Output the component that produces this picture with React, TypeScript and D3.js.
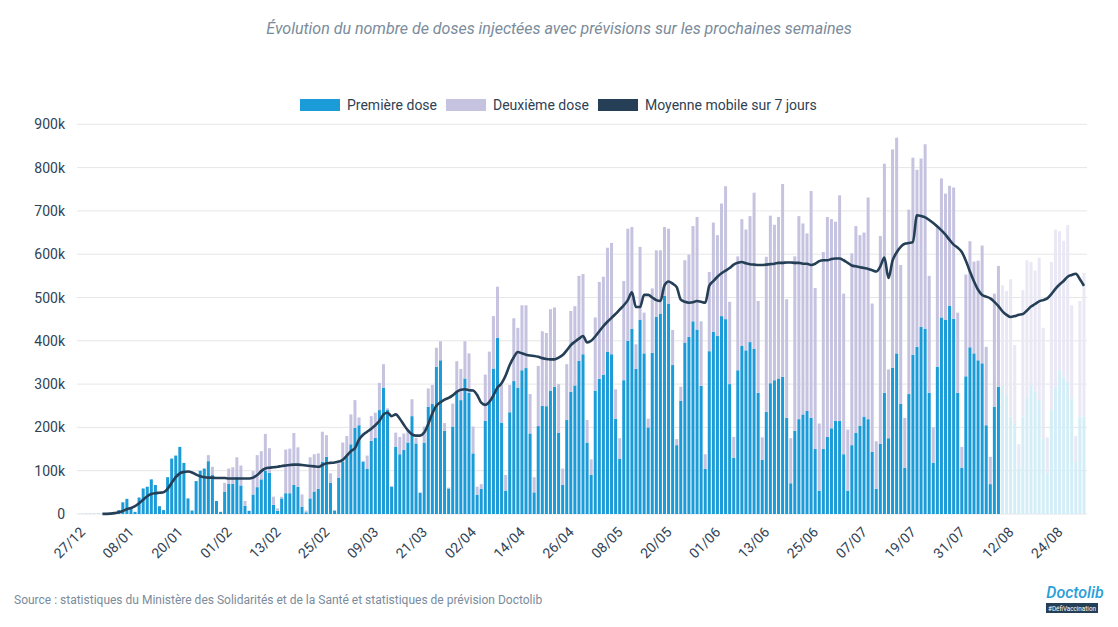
import * as d3 from "d3";

// day 0 = 27/12/2020 (Sunday); one value per day, in thousands of doses
const startDate = new Date(2020, 11, 27);
const forecastStart = 227; // 11/08 onwards are forecasts

const tickLabels = [
  "27/12", "08/01", "20/01", "01/02", "13/02", "25/02", "09/03", "21/03", "02/04", "14/04", "26/04",
  "08/05", "20/05", "01/06", "13/06", "25/06", "07/07", "19/07", "31/07", "12/08", "24/08",
];
const yTicks = [0, 100, 200, 300, 400, 500, 600, 700, 800, 900];

const firstDose = [
  0.1, 0.2, 0.3, 0.3, 0.3, 0.4, 0.4,
  0.3, 1.5, 3.5, 9, 27, 35, 13,
  5, 38, 59, 63, 80, 67, 18,
  9, 85, 128, 135, 155, 118, 36,
  8, 76, 100, 105, 122, 90, 30,
  5, 52, 70, 70, 86, 66, 19,
  7, 45, 62, 80, 100, 95, 21,
  7, 36, 48, 48, 67, 63, 17,
  4, 36, 52, 58, 121, 132, 72,
  8, 84, 121, 135, 161, 199, 205,
  121, 104, 169, 176, 240, 292, 240,
  63, 155, 138, 148, 165, 226, 163,
  49, 165, 248, 254, 340, 355, 192,
  59, 202, 280, 263, 313, 280, 140,
  44, 58, 215, 258, 336, 407, 211,
  54, 235, 307, 292, 332, 337, 186,
  50, 203, 250, 249, 285, 294, 188,
  67, 217, 282, 297, 354, 369, 165,
  90, 285, 312, 321, 375, 369, 220,
  127, 309, 400, 428, 335, 449, 371,
  200, 372, 455, 463, 504, 486, 344,
  159, 261, 396, 409, 445, 426, 296,
  104, 376, 421, 411, 457, 450, 300,
  130, 332, 388, 378, 397, 382, 280,
  125, 236, 302, 309, 313, 317, 222,
  71, 192, 219, 230, 238, 222, 150,
  54, 150, 178, 198, 215, 215, 138,
  54, 159, 188, 204, 225, 219, 144,
  58, 162, 280, 175, 338, 371, 254,
  107, 277, 368, 386, 432, 428, 280,
  118, 340, 454, 448, 481, 451, 280,
  107, 318, 385, 371, 355, 348, 205,
  69, 248, 294, 298, 275, 225, 208,
  108, 225, 271, 298, 282, 263, 175,
  95, 240, 294, 332, 317, 305, 267,
  120, 225, 225,
];

const secondDose = [
  0, 0, 0, 0, 0, 0, 0,
  0, 0, 0, 0, 0, 0, 0,
  0, 0, 0, 0, 0, 0, 0,
  0, 0, 0, 0, 0, 0, 0,
  0, 0, 0, 0, 14, 19, 0,
  0, 20, 35, 38, 45, 46, 11,
  1, 54, 74, 65, 85, 57, 19,
  6, 4, 101, 103, 120, 91, 28,
  4, 95, 86, 82, 69, 50, 22,
  1, 33, 44, 45, 69, 64, 18,
  2, 31, 57, 58, 63, 54, 4,
  2, 33, 40, 38, 30, 39, 13,
  1, 37, 42, 44, 44, 44, 18,
  2, 53, 73, 72, 86, 91, 62,
  19, 11, 107, 117, 121, 118, 87,
  36, 63, 145, 138, 150, 145, 91,
  35, 139, 172, 169, 188, 183, 112,
  38, 129, 187, 183, 196, 185, 52,
  36, 169, 224, 227, 240, 257, 68,
  48, 229, 259, 235, 57, 168, 94,
  20, 149, 154, 146, 159, 173, 81,
  14, 33, 190, 190, 220, 260, 149,
  34, 183, 252, 233, 260, 307, 190,
  48, 263, 293, 279, 291, 360, 212,
  52, 358, 387, 359, 373, 445, 274,
  104, 403, 469, 441, 410, 524, 372,
  155, 455, 508, 483, 460, 521, 371,
  141, 443, 477, 440, 425, 512, 342,
  110, 480, 529, 159, 504, 498, 321,
  115, 426, 455, 409, 389, 426, 270,
  82, 325, 321, 292, 277, 303, 185,
  48, 235, 245, 212, 230, 272, 181,
  63, 261, 279, 230, 240, 317, 182,
  53, 292, 315, 284, 280, 329, 255,
  82, 342, 363, 321, 314, 362, 215,
  60, 267, 332,
];

// 7-day moving average as drawn (starts on day 6)
const movingAvg: (number | null)[] = [
  null, null, null, null, null, null, 0.3,
  0.4, 0.8, 2, 4, 7, 11, 14,
  18, 25, 33, 41, 46, 48, 49,
  50, 58, 72, 85, 94, 97, 98,
  96, 91, 87, 85, 84, 84, 83,
  83, 83, 82, 82, 82, 82, 82,
  82, 84, 90, 99, 105, 107, 108,
  109, 111, 112, 113, 114, 114, 113,
  112, 111, 110, 109, 113, 117, 118,
  119, 121, 125, 135, 145, 152, 172,
  183, 190, 197, 205, 215, 230, 234,
  226, 230, 220, 206, 193, 184, 181,
  181, 188, 208, 232, 250, 258, 264,
  268, 274, 282, 287, 288, 286, 285,
  275, 257, 252, 259, 274, 292, 302,
  320, 344, 362, 374, 371, 368, 366,
  365, 363, 360, 358, 357, 357, 361,
  367, 378, 390, 398, 405, 411, 396,
  400, 410, 422, 434, 444, 453, 462,
  472, 482, 494, 512, 478, 478, 506,
  506, 500, 494, 492, 528, 537, 532,
  524, 495, 490, 488, 489, 492, 490,
  488, 527, 538, 548, 556, 562, 568,
  576, 580, 582, 579, 577, 576, 575,
  575, 576, 577, 578, 580, 580, 581,
  581, 580, 580, 578, 578, 575, 578,
  584, 586, 586, 589, 590, 590, 586,
  580, 574, 572, 570, 568, 566, 563,
  560, 572, 592, 545, 585, 604, 617,
  624, 626, 628, 690, 688, 685, 679,
  672, 664, 655, 645, 633, 622, 615,
  605, 585, 560, 537, 518, 506, 502,
  498, 490, 480, 468, 460, 455, 457,
  460, 462, 470, 479, 485, 491, 494,
  498, 508, 520, 530, 538, 548, 552,
  555, 542, 527,
];

const COLORS = {
  first: "#1b9bd7",
  second: "#c6c3e1",
  firstForecast: "#d4eef8",
  secondForecast: "#e9e8f4",
  line: "#243f56",
  text: "#2f4254",
  muted: "#7a8b9b",
  grid: "#e6e6e6",
};

const FONT = "Roboto, 'Noto Sans', sans-serif";

type Row = { day: number; date: Date; first: number; second: number };

const rows: Row[] = firstDose.map((v, i) => ({
  day: i,
  date: d3.timeDay.offset(startDate, i),
  first: v,
  second: secondDose[i],
}));

export default function App() {
  const width = 1118;
  const height = 627;

  const x = d3.scaleLinear().domain([-0.25, 247.5]).range([77, 1086]);
  const y = d3.scaleLinear().domain([0, 900]).range([514, 124.3]);
  const barW = 3;

  const stacked = d3.stack<Row>().keys(["first", "second"])(rows);

  const line = d3
    .line<number | null>()
    .defined((d) => d != null)
    .x((_, i) => x(i))
    .y((d) => y(d as number))
    .curve(d3.curveMonotoneX);

  const legend = [
    { label: "Première dose", color: COLORS.first, x: 300 },
    { label: "Deuxième dose", color: COLORS.second, x: 446 },
    { label: "Moyenne mobile sur 7 jours", color: COLORS.line, x: 598 },
  ];

  return (
    <div style={{ position: "absolute", left: 0, top: 0 }}>
      <svg width={width} height={height} style={{ display: "block", fontFamily: FONT }}>
        <rect width={width} height={height} fill="#fff" />
        <text
          x={559}
          y={34}
          textAnchor="middle"
          fontSize={16}
          fontStyle="italic"
          fill={COLORS.muted}
        >
          Évolution du nombre de doses injectées avec prévisions sur les prochaines semaines
        </text>

        {/* legend */}
        {legend.map((l) => (
          <g key={l.label}>
            <rect x={l.x} y={99} width={40} height={12} fill={l.color} />
            <text x={l.x + 47} y={110} fontSize={14} fill={COLORS.text}>
              {l.label}
            </text>
          </g>
        ))}

        {/* grid + y labels */}
        {yTicks.map((t) => (
          <g key={t}>
            <line x1={77} x2={1087} y1={y(t)} y2={y(t)} stroke={COLORS.grid} strokeWidth={1} />
            <text x={65} y={y(t) + 5} textAnchor="end" fontSize={14} fill={COLORS.text}>
              {t === 0 ? "0" : `${t}k`}
            </text>
          </g>
        ))}

        {/* bars */}
        {stacked.map((s) => (
          <g key={s.key}>
            {s.map((d, i) => {
              const forecast = i >= forecastStart;
              const fill =
                s.key === "first"
                  ? forecast
                    ? COLORS.firstForecast
                    : COLORS.first
                  : forecast
                  ? COLORS.secondForecast
                  : COLORS.second;
              const h = y(d[0]) - y(d[1]);
              if (h <= 0) return null;
              return (
                <rect
                  key={i}
                  x={x(i) - barW / 2}
                  y={y(d[1])}
                  width={barW}
                  height={h}
                  fill={fill}
                />
              );
            })}
          </g>
        ))}

        {/* moving average */}
        <path
          d={line(movingAvg) ?? ""}
          fill="none"
          stroke={COLORS.line}
          strokeWidth={2.6}
          strokeLinejoin="round"
        />

        {/* x labels */}
        {tickLabels.map((lab, i) => {
          const tx = x(i * 12) + 8;
          return (
            <text
              key={lab}
              transform={`translate(${tx},533) rotate(-45)`}
              textAnchor="end"
              fontSize={14}
              fill={COLORS.text}
            >
              {lab}
            </text>
          );
        })}

        <text x={14} y={604} fontSize={12} fill={COLORS.muted}>
          Source : statistiques du Ministère des Solidarités et de la Santé et statistiques de
          prévision Doctolib
        </text>

        {/* logo */}
        <text
          x={1075}
          y={598}
          textAnchor="middle"
          fontSize={16}
          fontStyle="italic"
          fontWeight={500}
          fill="#2a9fd9"
        >
          Doctolib
        </text>
        <rect x={1046} y={603} width={52} height={10} fill={COLORS.line} />
        <text
          x={1072}
          y={610.5}
          textAnchor="middle"
          fontSize={6.5}
          fill="#fff"
          textLength={48}
          lengthAdjust="spacingAndGlyphs"
        >
          #DéfiVaccination
        </text>
      </svg>
    </div>
  );
}
